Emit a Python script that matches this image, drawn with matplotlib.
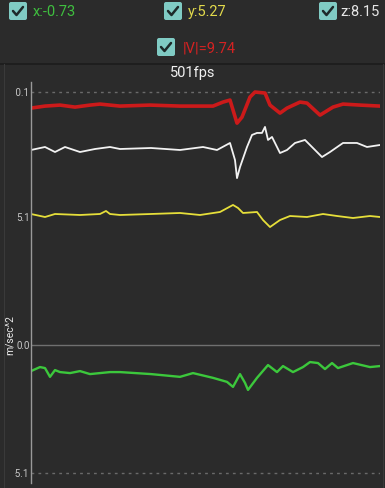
import matplotlib
matplotlib.use("Agg")
import matplotlib.pyplot as plt
from matplotlib.patches import FancyBboxPatch
from matplotlib.transforms import Bbox

plt.rcParams['font.family'] = ['Roboto', 'DejaVu Sans']

# readings shown in the header
labels = ["x:-0.73", "y:5.27", "z:8.15", "|V|=9.74"]
fps_text = "501fps"
y_ticks = [10.1, 5.1, 0.0, -5.1]
y_tick_labels = ["10.1", "5.1", "0.0", "-5.1"]
y_label = "m/sec^2"

# traces (sample index, m/sec^2)
v_t = [0, 14, 29, 44, 59, 69, 89, 119, 149, 182, 192, 199, 206, 211, 219, 224,
       234, 239, 249, 256, 269, 276, 289, 302, 312, 329, 349]
v_val = [9.44, 9.52, 9.56, 9.48, 9.56, 9.60, 9.52, 9.56, 9.52, 9.52, 9.68, 9.76,
         8.84, 9.08, 9.88, 10.08, 10.04, 9.56, 9.24, 9.44, 9.68, 9.64, 9.16,
         9.48, 9.60, 9.56, 9.52]

z_t = [0, 14, 24, 34, 49, 64, 79, 89, 120, 149, 172, 186, 199, 204, 206, 209,
       216, 221, 226, 231, 234, 237, 241, 249, 256, 264, 274, 281, 291, 299,
       312, 326, 336, 349]
z_val = [7.77, 7.89, 7.69, 7.89, 7.69, 7.81, 7.89, 7.81, 7.85, 7.77, 7.89, 7.77,
         8.05, 7.37, 6.65, 7.09, 7.89, 8.37, 8.45, 8.45, 8.69, 8.17, 8.29, 7.65,
         7.77, 8.05, 8.17, 7.89, 7.49, 7.69, 8.05, 8.05, 7.89, 7.97]

y_t = [0, 14, 24, 49, 69, 75, 79, 89, 120, 149, 169, 189, 202, 207, 212, 226,
       232, 239, 249, 259, 276, 292, 306, 322, 339, 349]
y_val = [5.22, 5.10, 5.22, 5.18, 5.22, 5.34, 5.22, 5.18, 5.22, 5.26, 5.18, 5.30,
         5.58, 5.46, 5.26, 5.30, 4.98, 4.70, 4.98, 5.14, 5.10, 5.22, 5.14, 5.06,
         5.14, 5.10]

x_t = [0, 9, 14, 19, 24, 29, 39, 49, 59, 69, 79, 89, 120, 149, 162, 182, 196,
       202, 209, 214, 217, 226, 237, 246, 252, 262, 272, 279, 287, 294, 301,
       307, 322, 339, 349]
x_val = [-1.04, -0.88, -0.92, -1.27, -1.00, -1.08, -1.12, -1.04, -1.16, -1.12,
         -1.08, -1.08, -1.16, -1.27, -1.12, -1.31, -1.47, -1.67, -1.16, -1.51,
         -1.79, -1.31, -0.80, -1.08, -0.84, -1.08, -0.88, -0.68, -0.72, -0.96,
         -0.72, -0.92, -0.72, -0.88, -0.84]

BG = "#2b2b2b"
W, H = 385, 488
fig = plt.figure(figsize=(W / 100, H / 100), dpi=100, facecolor=BG)

# overlay in pixel coordinates for the header
bg = fig.add_axes([0, 0, 1, 1])
bg.set_xlim(0, W)
bg.set_ylim(H, 0)
bg.axis("off")
bg.set_facecolor(BG)

boxes = [(18, 11), (173, 11), (328, 11), (166, 47)]
text_x = [33, 188, 340, 183]
text_y = [12, 12, 12, 49]
text_colors = ["#3fbf3f", "#e2da4c", "#e6e6e6", "#d42222"]
for (cx, cy), tx, ty, lab, col in zip(boxes, text_x, text_y, labels, text_colors):
    bg.add_patch(FancyBboxPatch((cx - 9, cy - 9), 18, 18,
                                boxstyle="round,pad=0,rounding_size=2",
                                fc="#80cbc4", ec="none"))
    bg.plot([cx - 5, cx - 1.5, cx + 5], [cy, cy + 4, cy - 4],
            color="#1e2a2a", lw=1.8, solid_capstyle="round")
    bg.text(tx, ty, lab, color=col, fontsize=10.5, va="center", ha="left")

bg.plot([0, W], [63.5, 63.5], color="#1c1c1c", lw=1.2)
bg.plot([3.5, 3.5], [64, H], color="#3a3a3a", lw=0.8)
bg.plot([382.5, 382.5], [64, H], color="#3a3a3a", lw=0.8)
bg.text(193, 73, fps_text, color="#f0f0f0", fontsize=10.5, ha="center", va="center")
bg.text(10, 335, y_label, color="#e8e8e8", fontsize=7.5, rotation=90,
        ha="center", va="center")

# chart
ax = fig.add_axes([31 / W, 5 / H, (380 - 31) / W, (483 - 82) / H])
ax.set_facecolor("none")
ax.set_xlim(0, 349)
ax.set_ylim(-5.50, 10.48)
for s in ["top", "right", "bottom"]:
    ax.spines[s].set_visible(False)
ax.spines["left"].set_color("#9a9a9a")
ax.spines["left"].set_linewidth(1)

ax.axhline(0, color="#707070", lw=1)
for yv in [10.1, -5.1]:
    ax.axhline(yv, color="#6a6a6a", lw=1, ls=(0, (2, 3)))

ax.plot(v_t, v_val, color="#cc1a1a", lw=2.6)
ax.plot(z_t, z_val, color="#f2f2f2", lw=1.3)
ax.plot(y_t, y_val, color="#e6df3a", lw=1.3)
ax.plot(x_t, x_val, color="#3cc83c", lw=1.7)

ax.set_xticks([])
ax.set_yticks(y_ticks)
ax.set_yticklabels(y_tick_labels)
ax.tick_params(axis="y", length=0, pad=1, labelsize=7, labelcolor="#c8c8c8")
clip = Bbox.from_extents(14.6, 0, 31, H)
for t in ax.get_yticklabels():
    t.set_clip_box(clip)
    t.set_clip_on(True)

fig.savefig("out.png", dpi=100, facecolor=BG)
